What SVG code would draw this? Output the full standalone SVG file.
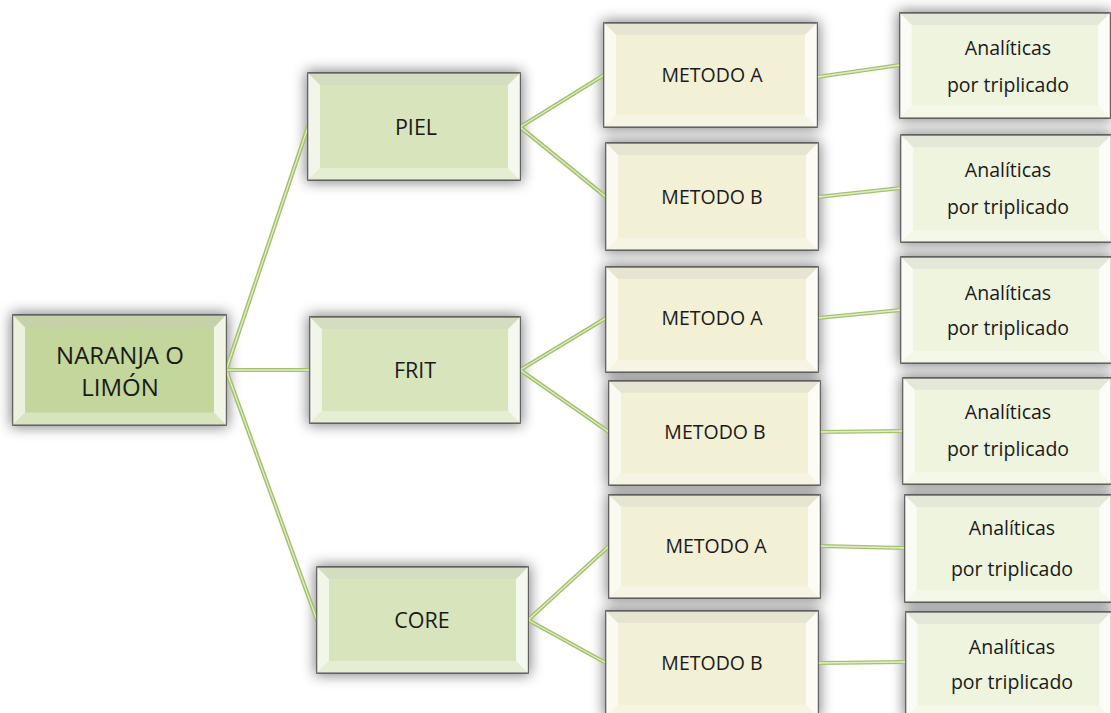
<svg xmlns="http://www.w3.org/2000/svg" xmlns:xlink="http://www.w3.org/1999/xlink" width="1111" height="713" viewBox="0 0 1111 713">
  <style>
    .lbl { font-family: "Open Sans", "Liberation Sans", sans-serif; fill: #1a1a1a; text-anchor: middle; }
    .root { fill: #c3d69b; }
    .mid { fill: #d8e4bc; }
    .met { fill: #f2f0d5; }
    .ana { fill: #eff4de; }
    .frame { stroke: #4d4d4d; stroke-width: 1.6; }
    .shadow { fill: #000; opacity: 0.5; filter: url(#blur); }
    .rod { fill: none; stroke: #a3c26a; stroke-width: 4.2; stroke-linecap: round; }
    .rodhi { fill: none; stroke: #e2ebcd; stroke-width: 1.3; stroke-linecap: round; }
  </style>
  <defs>
    <filter id="blur" x="-20%" y="-30%" width="140%" height="160%">
      <feGaussianBlur stdDeviation="7"/>
    </filter>
    <!-- bevelled face overlay, stretched to each box -->
    <symbol id="bevel" viewBox="0 0 212 106" preserveAspectRatio="none">
      <polygon points="0,0 212,0 200,12 12,12" fill="#ffffff" opacity="0.25"/>
      <polygon points="0,0 12,12 12,94 0,106" fill="#ffffff" opacity="0.65"/>
      <polygon points="212,0 212,106 200,94 200,12" fill="#ffffff" opacity="0.75"/>
      <polygon points="0,106 12,94 200,94 212,106" fill="#ffffff" opacity="0.35"/>
      <polygon points="0,0 212,0 200,12 12,12" fill="#000000" opacity="0.06"/>
    </symbol>
  </defs>

  <rect width="1111" height="713" fill="#ffffff"/>

  <!-- shadows -->
  <g id="shadows">
    <rect class="shadow" x="11" y="313" width="217" height="114"/>
    <rect class="shadow" x="306" y="71" width="216" height="111"/>
    <rect class="shadow" x="308" y="315" width="214" height="110"/>
    <rect class="shadow" x="315" y="565" width="215" height="110"/>
    <rect class="shadow" x="602" y="21" width="217" height="108"/>
    <rect class="shadow" x="604" y="141" width="216" height="111"/>
    <rect class="shadow" x="604" y="265" width="216" height="109"/>
    <rect class="shadow" x="607" y="379" width="215" height="108"/>
    <rect class="shadow" x="607" y="493" width="215" height="107"/>
    <rect class="shadow" x="604" y="609" width="216" height="110"/>
    <rect class="shadow" x="898" y="11" width="214" height="109"/>
    <rect class="shadow" x="899" y="133" width="214" height="111"/>
    <rect class="shadow" x="899" y="255" width="214" height="110"/>
    <rect class="shadow" x="901" y="376" width="212" height="110"/>
    <rect class="shadow" x="903" y="493" width="210" height="111"/>
    <rect class="shadow" x="904" y="610" width="209" height="110"/>
  </g>

  <!-- connectors -->
  <g id="connectors">
    <g class="rod">
      <path d="M226,370 L308,127"/>
      <path d="M226,370 L310,370"/>
      <path d="M226,370 L317,620"/>
      <path d="M520,127 L604,75"/>
      <path d="M520,127 L606,197"/>
      <path d="M520,370 L606,318"/>
      <path d="M520,370 L609,432"/>
      <path d="M528,620 L609,546"/>
      <path d="M528,620 L606,663"/>
      <path d="M817,77 L900,65"/>
      <path d="M818,197 L901,188"/>
      <path d="M818,318 L901,310"/>
      <path d="M820,432 L903,431"/>
      <path d="M820,546 L905,548"/>
      <path d="M818,663 L906,662"/>
    </g>
    <g class="rodhi">
      <path d="M226,370 L308,127"/>
      <path d="M226,370 L310,370"/>
      <path d="M226,370 L317,620"/>
      <path d="M520,127 L604,75"/>
      <path d="M520,127 L606,197"/>
      <path d="M520,370 L606,318"/>
      <path d="M520,370 L609,432"/>
      <path d="M528,620 L609,546"/>
      <path d="M528,620 L606,663"/>
      <path d="M817,77 L900,65"/>
      <path d="M818,197 L901,188"/>
      <path d="M818,318 L901,310"/>
      <path d="M820,432 L903,431"/>
      <path d="M820,546 L905,548"/>
      <path d="M818,663 L906,662"/>
    </g>
  </g>

  <!-- root -->
  <g id="node-naranja">
    <rect class="root frame" x="13" y="315" width="213" height="110"/>
    <use xlink:href="#bevel" x="13" y="315" width="213" height="110"/>
    <text class="lbl" font-size="24" x="120" y="363.5">NARANJA O</text>
    <text class="lbl" font-size="24" x="120" y="395.5">LIMÓN</text>
  </g>

  <!-- second level -->
  <g id="node-piel">
    <rect class="mid frame" x="308" y="73" width="212" height="107"/>
    <use xlink:href="#bevel" x="308" y="73" width="212" height="107"/>
    <text class="lbl" font-size="21.5" x="416" y="134.7">PIEL</text>
  </g>
  <g id="node-frit">
    <rect class="mid frame" x="310" y="317" width="210" height="106"/>
    <use xlink:href="#bevel" x="310" y="317" width="210" height="106"/>
    <text class="lbl" font-size="21.5" x="415" y="377.7">FRIT</text>
  </g>
  <g id="node-core">
    <rect class="mid frame" x="317" y="567" width="211" height="106"/>
    <use xlink:href="#bevel" x="317" y="567" width="211" height="106"/>
    <text class="lbl" font-size="21.5" x="422" y="627.7">CORE</text>
  </g>

  <!-- methods -->
  <g id="node-piel-a">
    <rect class="met frame" x="604" y="23" width="213" height="104"/>
    <use xlink:href="#bevel" x="604" y="23" width="213" height="104"/>
    <text class="lbl" font-size="19.5" x="712" y="82">METODO A</text>
  </g>
  <g id="node-piel-b">
    <rect class="met frame" x="606" y="143" width="212" height="107"/>
    <use xlink:href="#bevel" x="606" y="143" width="212" height="107"/>
    <text class="lbl" font-size="19.5" x="712" y="204">METODO B</text>
  </g>
  <g id="node-frit-a">
    <rect class="met frame" x="606" y="267" width="212" height="105"/>
    <use xlink:href="#bevel" x="606" y="267" width="212" height="105"/>
    <text class="lbl" font-size="19.5" x="712" y="325">METODO A</text>
  </g>
  <g id="node-frit-b">
    <rect class="met frame" x="609" y="381" width="211" height="104"/>
    <use xlink:href="#bevel" x="609" y="381" width="211" height="104"/>
    <text class="lbl" font-size="19.5" x="715" y="439">METODO B</text>
  </g>
  <g id="node-core-a">
    <rect class="met frame" x="609" y="495" width="211" height="103"/>
    <use xlink:href="#bevel" x="609" y="495" width="211" height="103"/>
    <text class="lbl" font-size="19.5" x="716" y="553">METODO A</text>
  </g>
  <g id="node-core-b">
    <rect class="met frame" x="606" y="611" width="212" height="106"/>
    <use xlink:href="#bevel" x="606" y="611" width="212" height="106"/>
    <text class="lbl" font-size="19.5" x="712" y="670">METODO B</text>
  </g>

  <!-- analyses -->
  <g id="node-ana-1">
    <rect class="ana frame" x="900" y="13" width="210" height="105"/>
    <use xlink:href="#bevel" x="900" y="13" width="210" height="105"/>
    <text class="lbl" font-size="19.5" x="1008" y="55">Analíticas</text>
    <text class="lbl" font-size="19.5" x="1008" y="92">por triplicado</text>
  </g>
  <g id="node-ana-2">
    <rect class="ana frame" x="901" y="135" width="210" height="107"/>
    <use xlink:href="#bevel" x="901" y="135" width="210" height="107"/>
    <text class="lbl" font-size="19.5" x="1008" y="177">Analíticas</text>
    <text class="lbl" font-size="19.5" x="1008" y="214">por triplicado</text>
  </g>
  <g id="node-ana-3">
    <rect class="ana frame" x="901" y="257" width="210" height="106"/>
    <use xlink:href="#bevel" x="901" y="257" width="210" height="106"/>
    <text class="lbl" font-size="19.5" x="1008" y="300">Analíticas</text>
    <text class="lbl" font-size="19.5" x="1008" y="335">por triplicado</text>
  </g>
  <g id="node-ana-4">
    <rect class="ana frame" x="903" y="378" width="208" height="106"/>
    <use xlink:href="#bevel" x="903" y="378" width="208" height="106"/>
    <text class="lbl" font-size="19.5" x="1008" y="419">Analíticas</text>
    <text class="lbl" font-size="19.5" x="1008" y="456">por triplicado</text>
  </g>
  <g id="node-ana-5">
    <rect class="ana frame" x="905" y="495" width="206" height="107"/>
    <use xlink:href="#bevel" x="905" y="495" width="206" height="107"/>
    <text class="lbl" font-size="19.5" x="1012" y="535">Analíticas</text>
    <text class="lbl" font-size="19.5" x="1012" y="576">por triplicado</text>
  </g>
  <g id="node-ana-6">
    <rect class="ana frame" x="906" y="612" width="205" height="106"/>
    <use xlink:href="#bevel" x="906" y="612" width="205" height="106"/>
    <text class="lbl" font-size="19.5" x="1012" y="654">Analíticas</text>
    <text class="lbl" font-size="19.5" x="1012" y="689">por triplicado</text>
  </g>
</svg>
